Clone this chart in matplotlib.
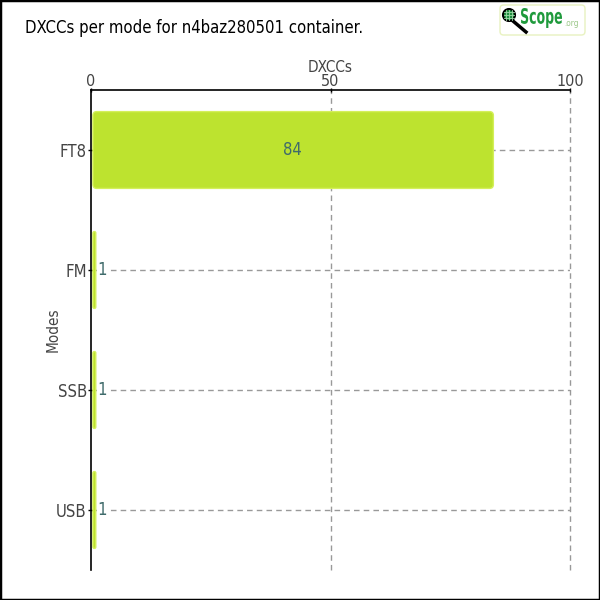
import matplotlib
matplotlib.use("Agg")
import matplotlib.pyplot as plt
from matplotlib.patches import FancyBboxPatch, Rectangle, Circle, PathPatch
from matplotlib.lines import Line2D
from matplotlib.textpath import TextPath
from matplotlib.font_manager import FontProperties
from matplotlib.transforms import Affine2D

# data
modes = ["FT8", "FM", "SSB", "USB"]
dxccs = [84, 1, 1, 1]
xticks = [0, 50, 100]

title = "DXCCs per mode for n4baz280501 container."
bar_color = "#bde32f"
label_color = "#3f6b6b"
text_color = "#444444"

plt.rcParams['font.family'] = ['DejaVu Sans']
plt.rcParams['font.stretch'] = 'condensed'

fig = plt.figure(figsize=(6, 6), dpi=100)
ax = fig.add_axes([91/600, 30/600, 479/600, 480/600])

ax.set_xlim(0, 100)
ax.set_ylim(len(modes) - 0.5, -0.5)

# grid lines
for x in xticks[1:]:
    ax.axvline(x, color="#999999", lw=1, ls=(0, (4, 3)), zorder=1, clip_on=False)
for i in range(len(modes)):
    ax.axhline(i, color="#999999", lw=1, ls=(0, (4, 3)), zorder=1)

# bars with rounded corners
h = 0.64
for i, v in enumerate(dxccs):
    r = min(0.8, v * 0.3)
    p = FancyBboxPatch((0.4, i - h / 2), v - 0.4, h,
                       boxstyle="round,pad=0,rounding_size=%f" % r,
                       mutation_aspect=0.04,
                       fc=bar_color, ec="#d4ef5a", lw=1, zorder=2)
    ax.add_patch(p)
    if v > 10:
        ax.text(v / 2, i, str(v), ha="center", va="center", fontsize=12,
                color=label_color, zorder=3)
    else:
        ax.text(v + 0.3, i, str(v), ha="left", va="center", fontsize=12,
                color=label_color, zorder=3,
                bbox=dict(fc="white", ec="none", pad=0.5))

ax.set_yticks(range(len(modes)))
ax.set_yticklabels(modes)
ax.set_xticks(xticks)
ax.xaxis.tick_top()
ax.xaxis.set_label_position("top")
ax.set_xlabel("DXCCs", fontsize=11, color=text_color)
ax.xaxis.set_label_coords(0.5, 1 + 22.5/480)
ax.xaxis.label.set_va("center")
ax.set_ylabel("Modes", fontsize=11, color=text_color)
ax.yaxis.set_label_coords(-30/479, 0.5)
ax.tick_params(axis="x", length=3, width=1, pad=-1, labelsize=11.5, labelcolor=text_color, direction="inout")
ax.tick_params(axis="y", length=4, width=1, pad=1, labelsize=12, labelcolor=text_color, direction="inout")

for s in ["right", "bottom"]:
    ax.spines[s].set_visible(False)
for s in ["left", "top"]:
    ax.spines[s].set_color("black")
    ax.spines[s].set_linewidth(1.2)
    ax.spines[s].set_zorder(4)

fig.text(25/600, 1 - 28/600, title, fontsize=12, color="black", va="center", ha="left")

# logo
fig.patches.append(FancyBboxPatch((500/600, 1 - 35/600), 85/600, 30/600,
                                  boxstyle="round,pad=0,rounding_size=0.006",
                                  transform=fig.transFigure, fc="white",
                                  ec="#e8f2c0", lw=1))
fig.lines.append(Line2D([513/600, 526/600], [1 - 21/600, 1 - 32/600],
                        transform=fig.transFigure, color="black", lw=2.5))
fig.patches.append(Circle((509/600, 1 - 15/600), 6/600, transform=fig.transFigure,
                          fc="#1f8f3f", ec="black", lw=1.5))
for d in (-3, 0, 3):
    fig.lines.append(Line2D([(509 + d)/600] * 2, [1 - 10/600, 1 - 20/600],
                            transform=fig.transFigure, color="#9fd8a8", lw=0.6))
    fig.lines.append(Line2D([504/600, 514/600], [1 - (15 + d)/600] * 2,
                            transform=fig.transFigure, color="#9fd8a8", lw=0.6))

# "Scope" squeezed into its box like the narrow logo font
tp = TextPath((0, 0), "Scope", size=20,
              prop=FontProperties(family="DejaVu Sans", weight="bold", stretch="condensed"))
ext = tp.get_extents()
x0, x1, ytop, ybot = 521, 562, 8, 28
sx = (x1 - x0) / ext.width
sy = (ybot - ytop) / ext.height
tr = (Affine2D().translate(-ext.x0, -ext.y0).scale(sx / 600, sy / 600)
      .translate(x0 / 600, 1 - ybot / 600) + fig.transFigure)
fig.patches.append(PathPatch(tp, transform=tr, fc="#1f9a3c", ec="none"))
fig.text(564/600, 1 - 24/600, ".org", fontsize=6, color="#9cc88a",
         va="center", ha="left")

# border around the figure
fig.patches.append(Rectangle((0, 0), 1, 1, transform=fig.transFigure,
                             fill=False, ec="black", lw=2.5))

fig.savefig("out.png", dpi=100)
